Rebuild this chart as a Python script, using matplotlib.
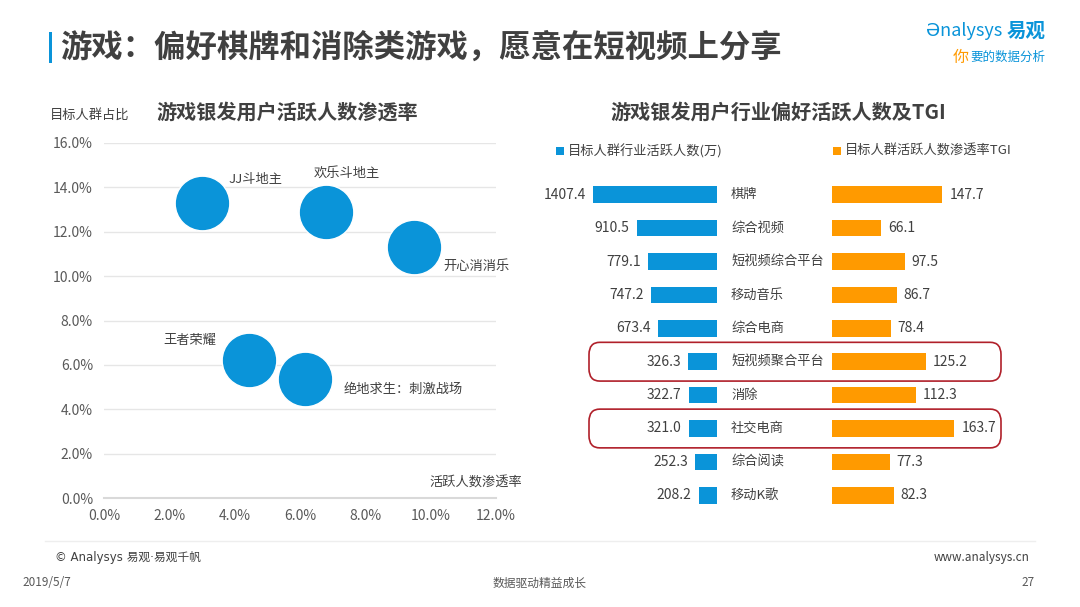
import matplotlib
matplotlib.use('Agg')
import matplotlib.pyplot as plt
import matplotlib.transforms as mtransforms
from matplotlib.patches import FancyBboxPatch, Rectangle
from matplotlib.ticker import FuncFormatter

plt.rcParams['font.family'] = ['Noto Sans CJK SC', 'DejaVu Sans']

# left chart: bubbles (x = 活跃人数渗透率 %, y = 目标人群占比 %)
games = ['JJ斗地主', '欢乐斗地主', '开心消消乐', '王者荣耀', '绝地求生：刺激战场']
penetration = [3.0, 6.8, 9.5, 4.45, 6.15]
share = [13.3, 12.9, 11.3, 6.2, 5.35]

# right chart: industries
industries = ['棋牌', '综合视频', '短视频综合平台', '移动音乐', '综合电商',
              '短视频聚合平台', '消除', '社交电商', '综合阅读', '移动K歌']
active_users = [1407.4, 910.5, 779.1, 747.2, 673.4, 326.3, 322.7, 321.0, 252.3, 208.2]
tgi = [147.7, 66.1, 97.5, 86.7, 78.4, 125.2, 112.3, 163.7, 77.3, 82.3]
highlight = ['短视频聚合平台', '社交电商']

BLUE = '#0A94D9'
ORANGE = '#FF9A00'
DARK = '#404040'
GREY = '#595959'

fig = plt.figure(figsize=(10.8, 6.07), dpi=100)

# header
fig.add_artist(Rectangle((0.045, 1 - 63 / 607), 0.0028, 31 / 607, transform=fig.transFigure,
                         color=BLUE, lw=0))
fig.text(0.056, 1 - 48 / 607, '游戏：偏好棋牌和消除类游戏，愿意在短视频上分享',
         fontsize=22.6, fontweight='bold', color=DARK, va='center', ha='left')
logo_cn = fig.text(0.968, 1 - 31 / 607, '易观', fontsize=14, color=BLUE,
                   fontweight='bold', va='center', ha='right')
fig.add_artist(plt.Annotation('Ənalysys', xy=(0, 0.5), xycoords=logo_cn, xytext=(-3, 0),
                              textcoords='offset points', ha='right', va='center',
                              fontsize=13, color=BLUE))
logo2 = fig.text(0.968, 1 - 57 / 607, '要的数据分析', fontsize=9, color=BLUE, style='italic',
                 va='center', ha='right')
fig.add_artist(plt.Annotation('你', xy=(0, 0.5), xycoords=logo2, xytext=(-1, 0),
                              textcoords='offset points', ha='right', va='center',
                              fontsize=11.5, color=ORANGE, style='italic'))

# ---- left: bubble chart
ax = fig.add_axes([104 / 1080, 1 - 498 / 607, 392 / 1080, 355 / 607])
ax.scatter(penetration, share, s=1550, color=BLUE, edgecolor='white', lw=1, zorder=3)
ax.set_xlim(0, 12)
ax.set_ylim(0, 16)
ax.set_xticks(range(0, 13, 2))
ax.set_yticks(range(0, 17, 2))
pct = FuncFormatter(lambda v, p: f'{v:.1f}%')
ax.xaxis.set_major_formatter(pct)
ax.yaxis.set_major_formatter(pct)
ax.tick_params(length=0, labelsize=10, labelcolor=GREY, pad=8)
ax.grid(axis='y', color='#E6E6E6', lw=1)
ax.set_axisbelow(True)
for s in ['top', 'right', 'left']:
    ax.spines[s].set_visible(False)
ax.spines['bottom'].set_color('#D9D9D9')
ax.spines['bottom'].set_linewidth(1.5)

offsets = [(19, 17, 'left'), (-9, 28, 'left'), (21, -14, 'left'),
           (-24, 14, 'right'), (28, -7, 'left')]
for name, x, y, (dx, dy, ha) in zip(games, penetration, share, offsets):
    ax.annotate(name, (x, y), xytext=(dx, dy), textcoords='offset points',
                ha=ha, va='center', fontsize=9.5, color=DARK)

ax.text(1.066, 0.045, '活跃人数渗透率', transform=ax.transAxes, ha='right', va='center',
        fontsize=9.5, color=DARK)
fig.text(50 / 1080, 1 - 115 / 607, '目标人群占比', fontsize=9.5, color=DARK, va='center')
fig.text(287 / 1080, 1 - 112 / 607, '游戏银发用户活跃人数渗透率', fontsize=14.5,
         fontweight='bold', color=DARK, va='center', ha='center')

# ---- right: mirrored bars
fig.text(778 / 1080, 1 - 112 / 607, '游戏银发用户行业偏好活跃人数及TGI', fontsize=14.5,
         fontweight='bold', color=DARK, va='center', ha='center')

ax_b = fig.add_axes([560 / 1080, 1 - 512 / 607, 157 / 1080, 334 / 607])
ax_o = fig.add_axes([832 / 1080, 1 - 512 / 607, 178 / 1080, 334 / 607])
rows = list(range(len(industries)))
ax_b.barh(rows, active_users, height=0.5, color=BLUE)
ax_o.barh(rows, tgi, height=0.5, color=ORANGE)
ax_b.set_xlim(1778, 0)
ax_o.set_xlim(0, 238)
for a in (ax_b, ax_o):
    a.set_ylim(len(industries) - 0.5, -0.5)
    a.axis('off')

for i, (v, t) in enumerate(zip(active_users, tgi)):
    ax_b.annotate(f'{v:.1f}', (v, i), xytext=(-5, 0), textcoords='offset points',
                  ha='right', va='center', fontsize=10, color=DARK)
    ax_o.annotate(f'{t:.1f}', (t, i), xytext=(5, 0), textcoords='offset points',
                  ha='left', va='center', fontsize=10, color=DARK)

lab_tr = mtransforms.blended_transform_factory(fig.transFigure, ax_b.transData)
for i, name in enumerate(industries):
    fig.text(731 / 1080, i, name, transform=lab_tr, ha='left', va='center',
             fontsize=9.5, color=DARK)

for name in highlight:
    i = industries.index(name)
    fig.add_artist(FancyBboxPatch((589 / 1080, i - 0.58), 412 / 1080, 1.16,
                                  boxstyle='round,pad=0,rounding_size=0.01',
                                  mutation_aspect=0.6 / 0.0165,
                                  transform=lab_tr, fill=False, ec='#B0202A', lw=1.2))

# legend
fig.add_artist(Rectangle((556 / 1080, 1 - 155 / 607), 8 / 1080, 8 / 607,
                         transform=fig.transFigure, color=BLUE, lw=0))
fig.text(568 / 1080, 1 - 151 / 607, '目标人群行业活跃人数(万)', fontsize=9.5, color=DARK,
         va='center')
fig.add_artist(Rectangle((833 / 1080, 1 - 155 / 607), 8 / 1080, 8 / 607,
                         transform=fig.transFigure, color=ORANGE, lw=0))
fig.text(845 / 1080, 1 - 151 / 607, '目标人群活跃人数渗透率TGI', fontsize=9.5, color=DARK,
         va='center')

# footer
fig.add_artist(plt.Line2D([45 / 1080, 1035 / 1080], [1 - 541 / 607] * 2,
                          transform=fig.transFigure, color='#EEEEEE', lw=1))
fig.text(55 / 1080, 1 - 557 / 607, '© Analysys 易观·易观千帆', fontsize=8.5, color=DARK,
         va='center', family=['DejaVu Sans', 'Noto Sans CJK SC'])
fig.text(1030 / 1080, 1 - 557 / 607, 'www.analysys.cn', fontsize=8.5, color=DARK,
         va='center', ha='right')
fig.text(22 / 1080, 1 - 583 / 607, '2019/5/7', fontsize=8.5, color=GREY, va='center')
fig.text(540 / 1080, 1 - 583 / 607, '数据驱动精益成长', fontsize=8.5, color=GREY,
         va='center', ha='center')
fig.text(1035 / 1080, 1 - 583 / 607, '27', fontsize=8.5, color=GREY, va='center', ha='right')

fig.savefig('out.png', dpi=100)
